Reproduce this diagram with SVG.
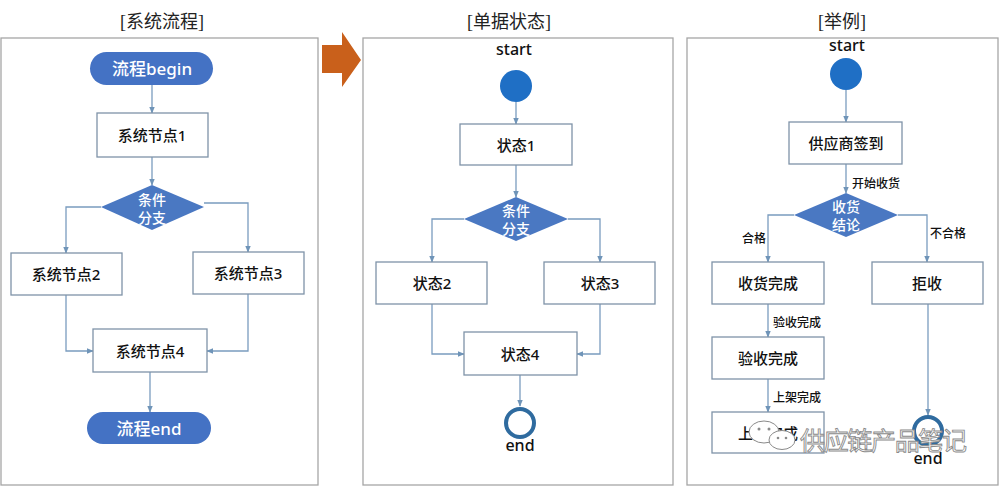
<svg xmlns="http://www.w3.org/2000/svg" width="999" height="486" viewBox="0 0 999 486">
<defs>
<marker id="ah" viewBox="0 0 10 10" refX="9" refY="5" markerWidth="7" markerHeight="7" orient="auto" markerUnits="userSpaceOnUse">
<path d="M0,1 L10,5 L0,9 z" fill="#6f94b8"/>
</marker>
</defs>
<style>
.title{font-family:"Liberation Serif","Noto Sans CJK SC",serif;font-size:18px;fill:#222;text-anchor:middle}
.frame{fill:#fff;stroke:#a6a6a6;stroke-width:1.3}
.box{fill:#fff;stroke:#7f93a8;stroke-width:1.3}
.pill{fill:#4472c4}
.dia{fill:#4a78c2}
.t{font-family:"Noto Sans","Noto Sans CJK SC",sans-serif;font-size:15px;font-weight:500;fill:#111;text-anchor:middle;dominant-baseline:central}
.tw{font-family:"Noto Sans","Noto Sans CJK SC",sans-serif;font-size:17px;font-weight:500;fill:#fff;text-anchor:middle;dominant-baseline:central}
.td{font-family:"Noto Sans CJK SC",sans-serif;font-size:14px;font-weight:500;fill:#fff;text-anchor:middle;dominant-baseline:central}
.lbl{font-family:"Noto Sans CJK SC",sans-serif;font-size:12px;font-weight:500;fill:#111;dominant-baseline:central}
.se{font-family:"Noto Sans",sans-serif;font-size:16px;font-weight:500;fill:#111;text-anchor:middle;dominant-baseline:central}
.c{fill:none;stroke:#7a9cbf;stroke-width:1.3;marker-end:url(#ah)}
.sc{fill:#1f6fc5}
.ec{fill:#fff;stroke:#2f6b9f;stroke-width:4}
.wm{font-family:"Noto Sans CJK SC",sans-serif;font-size:25px;fill:#fff;stroke:#8a8a8a;stroke-width:0.9;dominant-baseline:central}
</style>

<g id="panels">
<rect class="frame" x="1" y="38" width="317" height="447"/>
<rect class="frame" x="363" y="38" width="310" height="447"/>
<rect class="frame" x="687" y="38" width="311" height="447"/>
<text class="title" x="162" y="28">[系统流程]</text>
<text class="title" x="509" y="28">[单据状态]</text>
<text class="title" x="842" y="28">[举例]</text>
</g>

<g id="bigarrow">
<path d="M322,45 L342,45 L342,32 L361,60 L342,87 L342,73 L322,73 z" fill="#c9601b"/>
</g>

<g id="connectors">
<path class="c" d="M152,85 V113"/>
<path class="c" d="M152,157 V185"/>
<path class="c" d="M101,207 H66 V253"/>
<path class="c" d="M204,203 H248 V252"/>
<path class="c" d="M66,295 V351 H93"/>
<path class="c" d="M248,294 V351 H207"/>
<path class="c" d="M150,372 V412"/>
<path class="c" d="M516,102 V124"/>
<path class="c" d="M516,165 V197"/>
<path class="c" d="M464,219 H432 V262"/>
<path class="c" d="M568,219 H600 V262"/>
<path class="c" d="M432,304 V354 H464"/>
<path class="c" d="M600,304 V354 H577"/>
<path class="c" d="M520,375 V406"/>
<path class="c" d="M846,90 V122"/>
<path class="c" d="M846,164 V193"/>
<path class="c" d="M794,215 H768 V262"/>
<path class="c" d="M898,215 H927 V262"/>
<path class="c" d="M768,304 V337"/>
<path class="c" d="M768,379 V412"/>
<path class="c" d="M928,304 V415"/>
<text class="lbl" x="852" y="182">开始收货</text>
<text class="lbl" x="754" y="237" text-anchor="middle">合格</text>
<text class="lbl" x="948" y="232" text-anchor="middle">不合格</text>
<text class="lbl" x="773" y="321">验收完成</text>
<text class="lbl" x="773" y="396">上架完成</text>
</g>

<g id="begin"><rect class="pill" x="90" y="52" width="123" height="33" rx="16.5"/><text class="tw" x="152" y="68.5">流程begin</text></g>
<g id="sys1"><rect class="box" x="97" y="113" width="111" height="44"/><text class="t" x="152" y="135">系统节点1</text></g>
<g id="cond1"><polygon class="dia" points="152,185 204,207 152,230 101,207"/><text class="td" x="152" y="198.5">条件</text><text class="td" x="152" y="216.5">分支</text></g>
<g id="sys2"><rect class="box" x="11" y="253" width="111" height="42"/><text class="t" x="66" y="274">系统节点2</text></g>
<g id="sys3"><rect class="box" x="193" y="252" width="111" height="42"/><text class="t" x="248" y="273">系统节点3</text></g>
<g id="sys4"><rect class="box" x="93" y="329" width="114" height="43"/><text class="t" x="150" y="350.5">系统节点4</text></g>
<g id="end1"><rect class="pill" x="87" y="412" width="124" height="32" rx="16"/><text class="tw" x="149" y="428">流程end</text></g>

<g id="start2"><text class="se" x="514" y="49">start</text><circle class="sc" cx="516" cy="86" r="16"/></g>
<g id="st1"><rect class="box" x="460" y="124" width="112" height="41"/><text class="t" x="516" y="144.5">状态1</text></g>
<g id="cond2"><polygon class="dia" points="516,197 568,219 516,241 464,219"/><text class="td" x="516" y="209.5">条件</text><text class="td" x="516" y="227.5">分支</text></g>
<g id="st2"><rect class="box" x="376" y="262" width="111" height="42"/><text class="t" x="432" y="283">状态2</text></g>
<g id="st3"><rect class="box" x="544" y="262" width="111" height="42"/><text class="t" x="600" y="283">状态3</text></g>
<g id="st4"><rect class="box" x="464" y="332" width="113" height="43"/><text class="t" x="520" y="353.5">状态4</text></g>
<g id="end2"><circle class="ec" cx="520" cy="423" r="14"/><text class="se" x="520" y="445">end</text></g>

<g id="start3"><text class="se" x="847" y="45">start</text><circle class="sc" cx="846" cy="74" r="16"/></g>
<g id="sign"><rect class="box" x="789" y="122" width="113" height="42"/><text class="t" x="846" y="143">供应商签到</text></g>
<g id="cond3"><polygon class="dia" points="846,193 898,215 846,237 794,215"/><text class="td" x="846" y="206">收货</text><text class="td" x="846" y="224">结论</text></g>
<g id="recv"><rect class="box" x="712" y="262" width="112" height="42"/><text class="t" x="768" y="283">收货完成</text></g>
<g id="reject"><rect class="box" x="872" y="262" width="111" height="42"/><text class="t" x="927" y="283">拒收</text></g>
<g id="check"><rect class="box" x="712" y="337" width="112" height="42"/><text class="t" x="768" y="358">验收完成</text></g>
<g id="shelf"><rect class="box" x="712" y="412" width="112" height="41"/><text class="t" x="768" y="432.5">上架完成</text></g>
<g id="end3"><circle class="ec" cx="928" cy="431" r="14"/><text class="se" x="928" y="458">end</text></g>

<g id="watermark">
<ellipse cx="764" cy="432" rx="15" ry="11" fill="#fff" stroke="#8a8a8a" stroke-width="1"/>
<ellipse cx="782" cy="440" rx="13" ry="9.5" fill="#fff" stroke="#8a8a8a" stroke-width="1"/>
<circle cx="759" cy="429" r="1.5" fill="#8a8a8a"/><circle cx="769" cy="429" r="1.5" fill="#8a8a8a"/>
<circle cx="778" cy="438" r="1.3" fill="#8a8a8a"/><circle cx="786" cy="438" r="1.3" fill="#8a8a8a"/>
<text class="wm" x="800" y="439" textLength="167">供应链产品笔记</text>
</g>
</svg>
